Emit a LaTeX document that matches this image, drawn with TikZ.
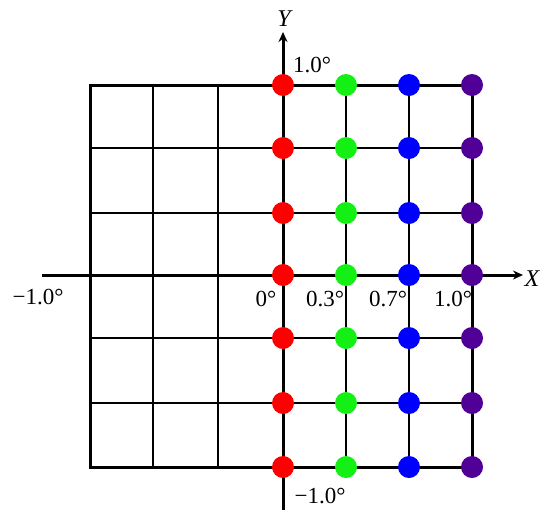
\documentclass[tikz,border=0pt]{standalone}
\usepackage{fontspec}
\setmainfont{Liberation Serif}
\usepackage{xcolor}
\usetikzlibrary{arrows.meta}

\definecolor{dotred}{RGB}{255,0,0}
\definecolor{dotgreen}{RGB}{20,240,20}
\definecolor{dotblue}{RGB}{0,0,255}
\definecolor{dotpurple}{RGB}{80,0,150}

\begin{document}
\begin{tikzpicture}[
    x=0.5pt, y=-0.5pt,
    tipis/.style={line width=0.75pt},
    tebal/.style={line width=1.5pt},
    sumbu/.style={line width=1.5pt, -{Stealth[length=5pt, width=4.5pt]}},
    titik/.style={circle, inner sep=0pt, minimum size=11pt, draw=none},
    label/.style={font=\fontsize{11.5}{13}\selectfont, inner sep=0pt}
  ]
    \useasboundingbox (0,0) rectangle (541,510);
    % grid
    \foreach \gx in {153,218,346,409}
      \draw[tipis] (\gx,85) -- (\gx,467);
    \foreach \gy in {148,213,338,403}
      \draw[tipis] (90,\gy) -- (472,\gy);
    \draw[tebal] (90,85) rectangle (472,467);
    % axes
    \coordinate (xkiri) at (42,275);
    \coordinate (xkanan) at (523,275);
    \coordinate (ybawah) at (283,510);
    \coordinate (yatas) at (283,32);
    \draw[sumbu] (xkiri) -- (xkanan);
    \draw[sumbu] (ybawah) -- (yatas);
    \node[label, font=\fontsize{12}{13}\selectfont\itshape] (lx) at (532,279) {X};
    \node[label, font=\fontsize{12}{13}\selectfont\itshape] (ly) at (284,19) {Y};
    % dots
    \foreach \px/\warna in {283/dotred, 346/dotgreen, 409/dotblue, 472/dotpurple}
      \foreach \py in {85,148,213,275,338,403,467}
        \node[titik, fill=\warna] (t-\px-\py) at (\px,\py) {};
    % labels
    \node[label] (atas) at (312,65) {1.0°};
    \node[label] (bawah) at (320,496) {−1.0°};
    \node[label] (kiri) at (38,297) {−1.0°};
    \node[label] (n0) at (266,299) {0°};
    \node[label] (n3) at (325,299) {0.3°};
    \node[label] (n7) at (388,299) {0.7°};
    \node[label] (n10) at (453,299) {1.0°};
\end{tikzpicture}
\end{document}
